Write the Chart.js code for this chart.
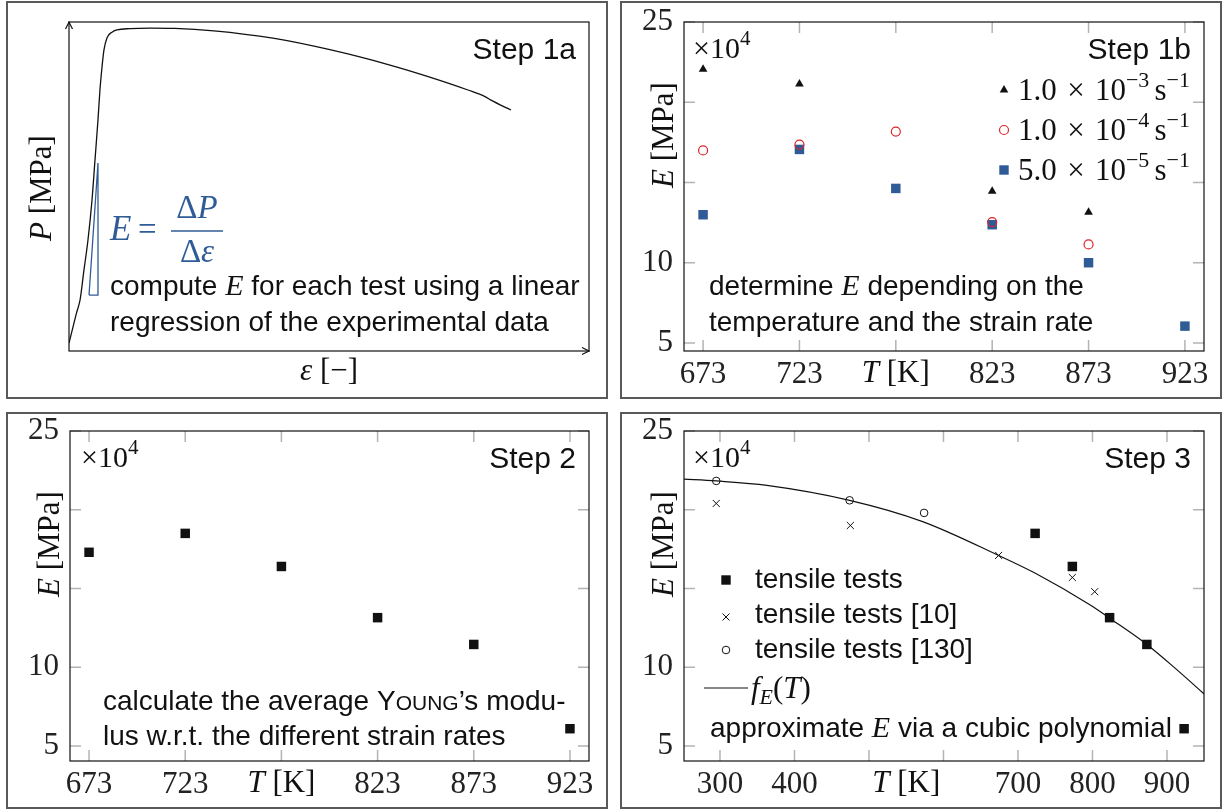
<!DOCTYPE html>
<html>
<head>
<meta charset="utf-8">
<title>Young's modulus identification</title>
<script src="https://cdn.jsdelivr.net/npm/chart.js"></script>
<style>
  body { margin: 0; background: #fff; width: 1222px; height: 809px; position: relative; overflow: hidden; }
  .panel { position: absolute; box-sizing: border-box; border: 2px solid #595959; }
  .panel canvas { position: absolute; left: 0; top: 0; }
</style>
</head>
<body>
<div class="panel" style="left:6px;top:1px;width:602px;height:398px"><canvas id="c1" width="598" height="394"></canvas></div>
<div class="panel" style="left:620px;top:1px;width:602px;height:398px"><canvas id="c2" width="598" height="394"></canvas></div>
<div class="panel" style="left:6px;top:412px;width:602px;height:397px"><canvas id="c3" width="598" height="393"></canvas></div>
<div class="panel" style="left:620px;top:412px;width:602px;height:397px"><canvas id="c4" width="598" height="393"></canvas></div>
<script>
// step 1a: one tensile test, strain in % and stress in MPa (axes carry no ticks)
const curveStrain = [0.0, 0.31, 0.58, 0.85, 1.15, 1.46, 1.77, 2.0, 2.23, 2.38, 2.54, 2.69, 2.92, 3.31, 3.69, 4.69, 6.23, 8.15, 11.15, 15.69, 20.15, 24.69, 27.69, 30.69, 32.0, 32.46, 34.0];
const curveStress = [2.9, 8.8, 13.9, 18.6, 29.5, 40.5, 55.1, 69.7, 84.3, 95.2, 103.6, 109.8, 114.2, 116.3, 117.1, 117.6, 117.8, 117.7, 116.8, 114.1, 109.8, 104.3, 100.0, 95.2, 92.8, 91.5, 87.9];
// slope triangle of the linear regression
const slopeStrain = [1.54, 2.23, 2.23, 1.54];
const slopeStress = [20.4, 20.4, 68.6, 20.4];

// step 1b: E in 1e4 MPa per temperature and strain rate
const testTemps = [673, 723, 773, 823, 873, 923];
const eRateA = [22.05, 21.13, null, 14.46, 13.14, null];   // 1.0e-3 1/s
const eRateB = [17.0, 17.36, 18.17, 12.53, 11.14, null];   // 1.0e-4 1/s
const eRateC = [12.99, 17.06, 14.63, 12.37, 10.0, 6.05];   // 5.0e-5 1/s

// step 2: averaged over strain rates
const eMean = [17.3, 18.5, 16.4, 13.15, 11.45, 6.1];

// step 3: own tests, literature values and the cubic fit
const ownTemps = [723, 773, 823, 873, 923];
const ownE = [18.5, 16.4, 13.15, 11.45, 6.1];
const ref10Temps = [295, 475, 674, 773, 803];
const ref10E = [20.4, 19.0, 17.1, 15.7, 14.8];
const ref130Temps = [295, 474, 574];
const ref130E = [21.83, 20.6, 19.8];
const fitTemps = [250, 295, 363, 474, 572, 674, 724, 797, 822, 873, 912, 950];
const fitE = [21.95, 21.83, 21.55, 20.6, 19.25, 17.1, 15.95, 13.95, 13.15, 11.45, 9.9, 8.3];

const yTicks = [5, 10, 15, 20, 25];
const tempTicks = [673, 723, 773, 823, 873, 923];
const fitTicks = [300, 400, 500, 600, 700, 800, 900];

const INK = '#111';
const BLUE = 'rgb(47,92,150)';
const RED = 'rgb(222,35,40)';
const SANS = '"Liberation Sans", Arial, sans-serif';
const SERIF = '"Liberation Serif", "DejaVu Serif", serif';
const font = (px, fam, style) => (style ? style + ' ' : '') + px + 'px ' + fam;

const pts = (xs, ys) => xs.map((x, i) => ({x: x, y: ys[i]})).filter(p => p.y != null);

// draw a line of mixed-font runs: [text, font, dy, color]
function drawRuns(ctx, runs, x, y, align) {
  let w = 0;
  runs.forEach(r => { ctx.font = r[1]; w += ctx.measureText(r[0]).width; });
  let cx = align === 'right' ? x - w : align === 'center' ? x - w / 2 : x;
  ctx.textAlign = 'left';
  ctx.textBaseline = 'alphabetic';
  runs.forEach(r => {
    ctx.font = r[1];
    ctx.fillStyle = r[3] || INK;
    ctx.fillText(r[0], cx, y + (r[2] || 0));
    cx += ctx.measureText(r[0]).width;
  });
}

function marker(ctx, style, x, y) {
  ctx.save();
  ctx.beginPath();
  if (style === 'triangle') {
    ctx.fillStyle = INK;
    ctx.moveTo(x, y - 5); ctx.lineTo(x + 4.3, y + 2.5); ctx.lineTo(x - 4.3, y + 2.5); ctx.closePath(); ctx.fill();
  } else if (style === 'redCircle') {
    ctx.strokeStyle = RED; ctx.lineWidth = 1.2;
    ctx.arc(x, y, 4.5, 0, Math.PI * 2); ctx.stroke();
  } else if (style === 'blueRect') {
    ctx.fillStyle = BLUE; ctx.fillRect(x - 4.7, y - 4.7, 9.4, 9.4);
  } else if (style === 'rect') {
    ctx.fillStyle = INK; ctx.fillRect(x - 4.7, y - 4.7, 9.4, 9.4);
  } else if (style === 'cross') {
    ctx.strokeStyle = INK; ctx.lineWidth = 1;
    ctx.moveTo(x - 3.5, y - 3.5); ctx.lineTo(x + 3.5, y + 3.5);
    ctx.moveTo(x + 3.5, y - 3.5); ctx.lineTo(x - 3.5, y + 3.5); ctx.stroke();
  } else if (style === 'circle') {
    ctx.strokeStyle = INK; ctx.lineWidth = 1;
    ctx.arc(x, y, 3.8, 0, Math.PI * 2); ctx.stroke();
  } else if (style === 'line') {
    ctx.strokeStyle = INK; ctx.lineWidth = 1.2;
    ctx.moveTo(x - 22, y); ctx.lineTo(x + 22, y); ctx.stroke();
  }
  ctx.restore();
}

// frame, inner tick marks, arrows and all annotation text
const decor = {
  id: 'decor',
  beforeDatasetsDraw(chart, args, o) {
    const ctx = chart.ctx, a = chart.chartArea;
    ctx.save();
    if (o.innerTicks) {
      ctx.strokeStyle = '#b4b4b4';
      ctx.lineWidth = 1.5;
      ctx.beginPath();
      chart.scales.x.ticks.forEach(t => {
        const p = chart.scales.x.getPixelForValue(t.value);
        ctx.moveTo(p, a.bottom); ctx.lineTo(p, a.bottom - 11);
        ctx.moveTo(p, a.top); ctx.lineTo(p, a.top + 11);
      });
      chart.scales.y.ticks.forEach(t => {
        const p = chart.scales.y.getPixelForValue(t.value);
        ctx.moveTo(a.left, p); ctx.lineTo(a.left + 11, p);
        ctx.moveTo(a.right, p); ctx.lineTo(a.right - 11, p);
      });
      ctx.stroke();
    }
    ctx.strokeStyle = INK;
    ctx.lineWidth = 1.2;
    ctx.strokeRect(a.left, a.top, a.width, a.height);
    if (o.arrows) {
      ctx.beginPath();
      ctx.moveTo(a.left - 3.5, a.top + 7); ctx.lineTo(a.left, a.top); ctx.lineTo(a.left + 3.5, a.top + 7);
      ctx.moveTo(a.right - 7, a.bottom - 3.5); ctx.lineTo(a.right, a.bottom); ctx.lineTo(a.right - 7, a.bottom + 3.5);
      ctx.stroke();
    }
    ctx.restore();
  },
  afterDatasetsDraw(chart, args, o) {
    const ctx = chart.ctx, a = chart.chartArea;
    ctx.save();
    (o.texts || []).forEach(t => {
      const p = t.at(a, chart.scales);
      if (t.rotate) {
        ctx.save();
        ctx.translate(p[0], p[1]);
        ctx.rotate(-Math.PI / 2);
        drawRuns(ctx, t.runs, 0, 0, 'center');
        ctx.restore();
      } else {
        drawRuns(ctx, t.runs, p[0], p[1], t.align);
      }
    });
    (o.keys || []).forEach(k => {
      const p = k.at(a);
      marker(ctx, k.style, p[0], p[1]);
    });
    (o.fractions || []).forEach(fr => {
      const p = fr.at(a);
      ctx.strokeStyle = fr.color;
      ctx.lineWidth = 1.3;
      ctx.beginPath(); ctx.moveTo(p[0], p[1]); ctx.lineTo(p[0] + fr.w, p[1]); ctx.stroke();
    });
    ctx.restore();
  }
};

const TICK_FONT = {family: '"Liberation Serif", serif', size: 31, lineHeight: 1};

// fixed axis sizes so the plot frame sits at the same place in every panel
function scales(xMin, xMax, xT, xHide, yMin, yMax) {
  return {
    x: {
      type: 'linear', min: xMin, max: xMax,
      afterBuildTicks: s => { s.ticks = xT.map(v => ({value: v})); },
      afterFit: s => { s.height = 46; s.paddingLeft = 0; s.paddingRight = 0; },
      grid: {display: false, drawTicks: false}, border: {display: false},
      ticks: {font: TICK_FONT, color: '#222', padding: 8, maxRotation: 0, autoSkip: false,
              callback: v => xHide.includes(v) ? '' : String(v)}
    },
    y: {
      type: 'linear', min: yMin, max: yMax,
      afterBuildTicks: s => { s.ticks = yTicks.map(v => ({value: v})); },
      afterFit: s => { s.width = 62; s.paddingTop = 0; s.paddingBottom = 0; },
      grid: {display: false, drawTicks: false}, border: {display: false},
      ticks: {font: TICK_FONT, color: '#222', padding: 11, autoSkip: false,
              callback: v => (v === 15 || v === 20) ? '' : String(v)}
    }
  };
}

const base = {
  responsive: false, animation: false, events: [],
  plugins: {legend: {display: false}, tooltip: {enabled: false}}
};
const pad = (l, r, t, b) => ({autoPadding: false, padding: {left: l, right: r, top: t, bottom: b}});

const eLabel = {rotate: true, at: a => [a.left - 11, a.top + 113],
  runs: [['E', font(31, SERIF, 'italic')], [' [MPa]', font(31, SERIF)]]};
const times10 = {at: a => [a.left + 9, a.top + 36],
  runs: [['\u00d710', font(30, SERIF)], ['4', font(21, SERIF), -13]]};
const tLabel = v => ({align: 'center', at: (a, s) => [s.x.getPixelForValue(v), a.bottom + 31],
  runs: [['T', font(31, SERIF, 'italic')], [' [K]', font(31, SERIF)]]});
const step = s => ({align: 'right', at: a => [a.right - 13, a.top + 37], runs: [[s, font(30, SANS)]]});
const rate = (m, e, y) => ({align: 'right', at: a => [a.right - 14, a.top + y],
  runs: [[m + '\u2004\u00d7\u200410', font(31, SERIF)], ['\u2212' + e, font(22, SERIF), -13],
         ['\u2006s', font(31, SERIF)], ['\u22121', font(22, SERIF), -13]]});

// step 1a
new Chart(document.getElementById('c1'), {
  type: 'line',
  data: {datasets: [
    {data: pts(curveStrain, curveStress), borderColor: INK, borderWidth: 1.3, pointRadius: 0, cubicInterpolationMode: 'monotone'},
    {data: pts(slopeStrain, slopeStress), borderColor: BLUE, borderWidth: 1.3, pointRadius: 0, tension: 0}
  ]},
  options: Object.assign({}, base, {
    layout: pad(61, 17, 19, 46),
    scales: {x: {type: 'linear', min: 0, max: 40, display: false}, y: {min: 0, max: 120, display: false}},
    plugins: Object.assign({}, base.plugins, {decor: {arrows: true,
      texts: [
        step('Step 1a'),
        {rotate: true, at: a => [a.left - 18, a.top + 166],
          runs: [['P', font(31, SERIF, 'italic')], [' [MPa]', font(31, SERIF)]]},
        {align: 'center', at: a => [(a.left + a.right) / 2, a.bottom + 29],
          runs: [['\u03b5', font(31, SERIF, 'italic')], [' [\u2212]', font(31, SERIF)]]},
        {at: a => [a.left + 41, a.top + 218], runs: [['E', font(35, SERIF, 'italic'), 0, BLUE], ['\u2009=', font(33, SERIF), 0, BLUE]]},
        {align: 'center', at: a => [a.left + 128, a.top + 196], runs: [['\u0394', font(33, SERIF), 0, BLUE], ['P', font(33, SERIF, 'italic'), 0, BLUE]]},
        {align: 'center', at: a => [a.left + 128, a.top + 240], runs: [['\u0394', font(33, SERIF), 0, BLUE], ['\u03b5', font(33, SERIF, 'italic'), 0, BLUE]]},
        {at: a => [a.left + 41, a.top + 273], runs: [['compute ', font(28, SANS)], ['E', font(30, SERIF, 'italic')], [' for each test using a linear', font(28, SANS)]]},
        {at: a => [a.left + 41, a.top + 309], runs: [['regression of the experimental data', font(28, SANS)]]}
      ],
      fractions: [{at: a => [a.left + 102, a.top + 209], w: 52, color: BLUE}]
    }})
  }),
  plugins: [decor]
});

// step 1b
new Chart(document.getElementById('c2'), {
  type: 'scatter',
  data: {datasets: [
    {data: pts(testTemps, eRateA), pointStyle: 'triangle', pointRadius: 5, backgroundColor: INK, borderWidth: 0},
    {data: pts(testTemps, eRateB), pointStyle: 'circle', pointRadius: 4.5, backgroundColor: 'rgba(0,0,0,0)', borderColor: RED, borderWidth: 1.2},
    {data: pts(testTemps, eRateC), pointStyle: 'rect', pointRadius: 6.7, backgroundColor: BLUE, borderWidth: 0}
  ]},
  options: Object.assign({}, base, {
    layout: pad(0, 16, 19, 0),
    scales: scales(663.1, 932.9, tempTicks, [773], 4.5, 25),
    plugins: Object.assign({}, base.plugins, {decor: {innerTicks: true,
      texts: [
        step('Step 1b'), eLabel, times10, tLabel(773),
        rate('1.0', '3', 78), rate('1.0', '4', 118), rate('5.0', '5', 158),
        {at: a => [a.left + 25, a.top + 273], runs: [['determine ', font(28, SANS)], ['E', font(30, SERIF, 'italic')], [' depending on the', font(28, SANS)]]},
        {at: a => [a.left + 25, a.top + 309], runs: [['temperature and the strain rate', font(28, SANS)]]}
      ],
      keys: [
        {style: 'triangle', at: a => [a.left + 320, a.top + 68]},
        {style: 'redCircle', at: a => [a.left + 320, a.top + 108]},
        {style: 'blueRect', at: a => [a.left + 320, a.top + 148]}
      ]
    }})
  }),
  plugins: [decor]
});

// step 2
new Chart(document.getElementById('c3'), {
  type: 'scatter',
  data: {datasets: [
    {data: pts(testTemps, eMean), pointStyle: 'rect', pointRadius: 6.7, backgroundColor: INK, borderWidth: 0}
  ]},
  options: Object.assign({}, base, {
    layout: pad(0, 17, 17, 0),
    scales: scales(663.1, 932.9, tempTicks, [773], 4.05, 25),
    plugins: Object.assign({}, base.plugins, {decor: {innerTicks: true,
      texts: [
        step('Step 2'), eLabel, Object.assign({}, times10, {at: a => [a.left + 11, a.top + 36]}), tLabel(773),
        {at: a => [a.left + 33, a.top + 279], runs: [['calculate the average Y', font(28, SANS)], ['OUNG', font(21, SANS)], ['\u2019s modu-', font(28, SANS)]]},
        {at: a => [a.left + 33, a.top + 314], runs: [['lus w.r.t. the different strain rates', font(28, SANS)]]}
      ]
    }})
  }),
  plugins: [decor]
});

// step 3
new Chart(document.getElementById('c4'), {
  type: 'scatter',
  data: {datasets: [
    {data: pts(ownTemps, ownE), pointStyle: 'rect', pointRadius: 6.7, backgroundColor: INK, borderWidth: 0},
    {data: pts(ref10Temps, ref10E), pointStyle: 'crossRot', pointRadius: 5, borderColor: INK, borderWidth: 1},
    {data: pts(ref130Temps, ref130E), pointStyle: 'circle', pointRadius: 3.8, backgroundColor: 'rgba(0,0,0,0)', borderColor: INK, borderWidth: 1},
    {type: 'line', data: pts(fitTemps, fitE), showLine: true, pointRadius: 0, borderColor: INK, borderWidth: 1.2, cubicInterpolationMode: 'monotone'}
  ]},
  options: Object.assign({}, base, {
    layout: pad(0, 16, 17, 0),
    scales: scales(251.7, 949.7, fitTicks, [500, 600], 4.05, 25),
    plugins: Object.assign({}, base.plugins, {decor: {innerTicks: true,
      texts: [
        step('Step 3'), eLabel, times10, tLabel(550),
        {at: a => [a.left + 71, a.top + 157], runs: [['tensile tests', font(28, SANS)]]},
        {at: a => [a.left + 71, a.top + 192], runs: [['tensile tests [10]', font(28, SANS)]]},
        {at: a => [a.left + 71, a.top + 227], runs: [['tensile tests [130]', font(28, SANS)]]},
        {at: a => [a.left + 67, a.top + 267], runs: [['f', font(31, SERIF, 'italic')], ['E', font(22, SERIF, 'italic'), 6], ['(', font(31, SERIF)], ['T', font(31, SERIF, 'italic')], [')', font(31, SERIF)]]},
        {at: a => [a.left + 26, a.top + 306], runs: [['approximate ', font(28, SANS)], ['E', font(30, SERIF, 'italic')], [' via a cubic polynomial', font(28, SANS)]]}
      ],
      keys: [
        {style: 'rect', at: a => [a.left + 42, a.top + 149]},
        {style: 'cross', at: a => [a.left + 42, a.top + 186]},
        {style: 'circle', at: a => [a.left + 42, a.top + 219]},
        {style: 'line', at: a => [a.left + 42, a.top + 257]}
      ]
    }})
  }),
  plugins: [decor]
});
</script>
</body>
</html>
